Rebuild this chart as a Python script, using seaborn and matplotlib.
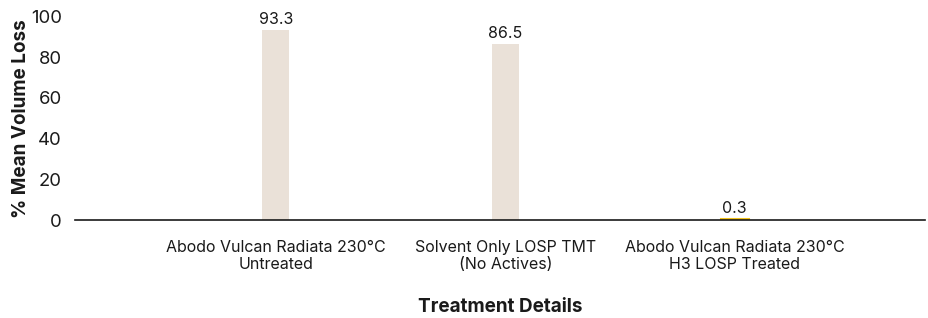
import seaborn as sns
import matplotlib.pyplot as plt
import pandas as pd

sns.set_style("white")
plt.rcParams['font.family'] = ['Inter', 'DejaVu Sans']

# Data
treatments = ["Abodo Vulcan Radiata 230°C\nUntreated",
              "Solvent Only LOSP TMT\n(No Actives)",
              "Abodo Vulcan Radiata 230°C\nH3 LOSP Treated"]
volume_loss = [93.3, 86.5, 0.3]
bar_colors = ["#EAE1D8", "#EAE1D8", "#F2C21B"]

df = pd.DataFrame({"Treatment": treatments, "Loss": volume_loss})

fig = plt.figure(figsize=(9.29, 3.18), dpi=100)
ax = fig.add_axes([0.0807, 0.308, 0.915, 0.640])

sns.barplot(data=df, x="Treatment", y="Loss", hue="Treatment",
            palette=bar_colors, width=0.118, legend=False, ax=ax,
            saturation=1)

# the tiny bar gets an outline in its own colour so it stays visible
for p, c in zip(ax.patches, bar_colors):
    p.set_edgecolor(c)
    p.set_linewidth(0)
ax.patches[2].set_linewidth(2.2)

for p, v in zip(ax.patches, volume_loss):
    ax.text(p.get_x() + p.get_width() / 2, p.get_height() + 1.5, f"{v}",
            ha="center", va="bottom", fontsize=11.5, color="#1a1a1a")

ax.set_xlim(-0.876, 2.83)
ax.set_ylim(0, 100)
ax.set_yticks([0, 20, 40, 60, 80, 100])
ax.tick_params(axis="y", labelsize=13.3, length=0, pad=9.5, colors="#1a1a1a")
ax.tick_params(axis="x", labelsize=11.5, length=0, pad=14, colors="#1a1a1a")

for s in ["top", "right", "left"]:
    ax.spines[s].set_visible(False)
ax.spines["bottom"].set_color("#1a1a1a")
ax.spines["bottom"].set_linewidth(1.2)

ax.set_ylabel("% Mean Volume Loss", fontsize=13.6, fontweight="bold",
              color="#1a1a1a", labelpad=0.5)
ax.set_xlabel("Treatment Details", fontsize=13.6, fontweight="bold",
              color="#1a1a1a", labelpad=19)

plt.savefig("out.png", dpi=100)
plt.close()
